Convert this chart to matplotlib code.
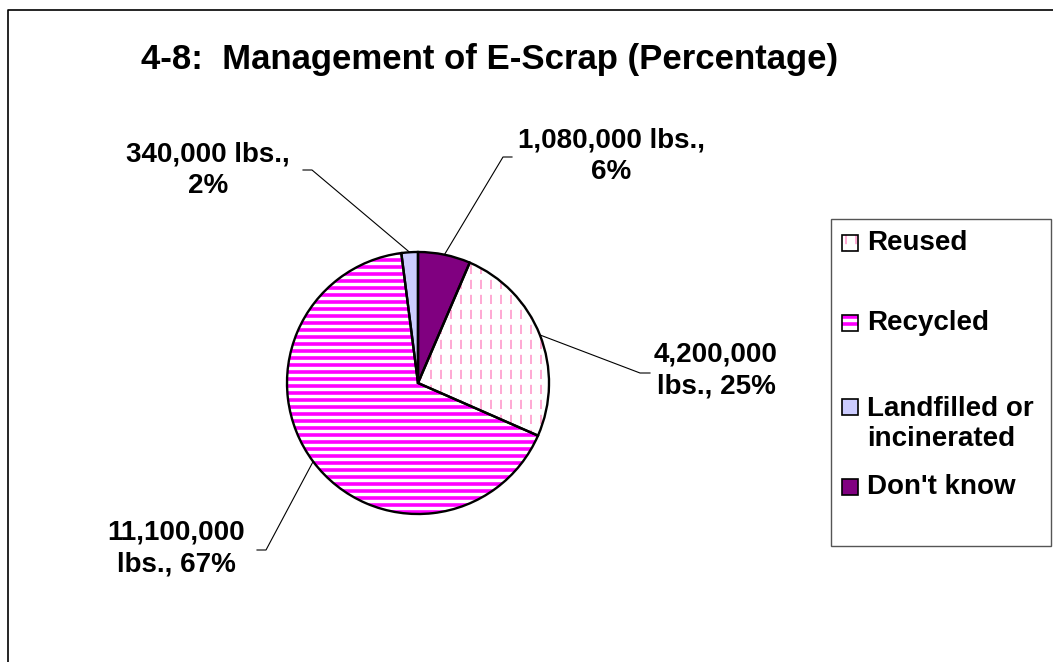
# Management of E-Scrap pie chart
import numpy as np
import matplotlib.pyplot as plt
from matplotlib.patches import Wedge, Rectangle

plt.rcParams["font.family"] = ["Liberation Sans", "DejaVu Sans"]

# Data
categories = ["Reused", "Recycled", "Landfilled or\nincinerated", "Don't know"]
pounds = [4200000, 11100000, 340000, 1080000]
slice_labels = ["4,200,000\nlbs., 25%", "11,100,000\nlbs., 67%",
                "340,000 lbs.,\n2%", "1,080,000 lbs.,\n6%"]
title = "4-8:  Management of E-Scrap (Percentage)"

# Styles
face = ["white", "white", "#CCCCFF", "#800080"]
pattern = ["vdash", "hstripe", None, None]

W, H = 1053, 662
fig = plt.figure(figsize=(W / 100, H / 100), dpi=100)

# pixel overlay for frame, texts, leader lines and legend
bg = fig.add_axes([0, 0, 1, 1])
bg.set_xlim(0, W)
bg.set_ylim(H, 0)
bg.axis("off")

# pie axes (center 418,383 px, radius 131 px)
cx, cy, r = 418, 383, 131
ax = fig.add_axes([(cx - r) / W, (H - cy - r) / H, 2 * r / W, 2 * r / H])


def fill_pattern(a, clip, box, kind, px):
    x0, x1, y0, y1 = box
    if kind == "hstripe":
        ys = np.arange(y0 + 2 * px, y1, 7 * px)
        lc = a.hlines(ys, x0, x1, colors="#FF00FF", linewidth=2.6, zorder=2)
    elif kind == "vdash":
        xs = np.arange(x0 + 4 * px, x1, 10 * px)
        lc = a.vlines(xs, y0, y1, colors="#FF99CC", linewidth=1.2,
                      linestyles=(0, (5.5, 3.5)), zorder=2)
    else:
        return
    lc.set_clip_path(clip)


start = 90 - 360 * pounds[-1] / sum(pounds)
wedges, _ = ax.pie(pounds, colors=face, startangle=start, counterclock=False,
                   radius=1, wedgeprops=dict(linewidth=0))
ax.set_xlim(-1, 1)
ax.set_ylim(-1, 1)
ax.axis("off")

for w, kind in zip(wedges, pattern):
    fill_pattern(ax, w, (-1, 1, -1, 1), kind, 1 / r)
    ax.add_patch(Wedge((0, 0), 1, w.theta1, w.theta2, fill=False,
                       ec="black", lw=1.7, zorder=3, clip_on=False))

# data labels with leader lines
label_xy = [(716, 371), (176, 549), (208, 170), (611, 156)]
lead = [((640, 373), (650, 373)), ((266, 550), (257, 550)),
        ((312, 170), (303, 170)), ((503, 157), (512, 157))]

to_px = ax.transData + bg.transData.inverted()
for w, txt, pos, (knee, tail) in zip(wedges, slice_labels, label_xy, lead):
    mid = np.deg2rad((w.theta1 + w.theta2) / 2)
    ex, ey = to_px.transform((np.cos(mid), np.sin(mid)))
    bg.plot([ex, knee[0], tail[0]], [ey, knee[1], tail[1]],
            color="black", lw=0.8)
    bg.text(pos[0], pos[1], txt, ha="center", va="center", fontsize=20,
            fontweight="bold", linespacing=1.3)

# title and outer frame
bg.text(490, 59, title, ha="center", va="center", fontsize=25,
        fontweight="bold")
bg.plot([8, 8, W + 5], [H + 5, 10, 10], color="black", lw=1.2)

# legend
bg.add_patch(Rectangle((831, 219), 220, 327, fill=False, ec="#555555", lw=1))
legend_y = [243, 323, 407, 487]
for name, fc, kind, y in zip(categories, face, pattern, legend_y):
    sq = Rectangle((842, y - 8), 16, 16, fc=fc, ec="none", zorder=1)
    bg.add_patch(sq)
    fill_pattern(bg, sq, (842, 858, y - 8, y + 8), kind, 1)
    bg.add_patch(Rectangle((842, y - 8), 16, 16, fill=False, ec="black",
                           lw=1.2, zorder=3))
    nl = name.count("\n")
    bg.text(867, y + nl * 16.5, name, ha="left", va="center", fontsize=20,
            fontweight="bold", linespacing=1.2)

fig.savefig("out.png", dpi=100)
